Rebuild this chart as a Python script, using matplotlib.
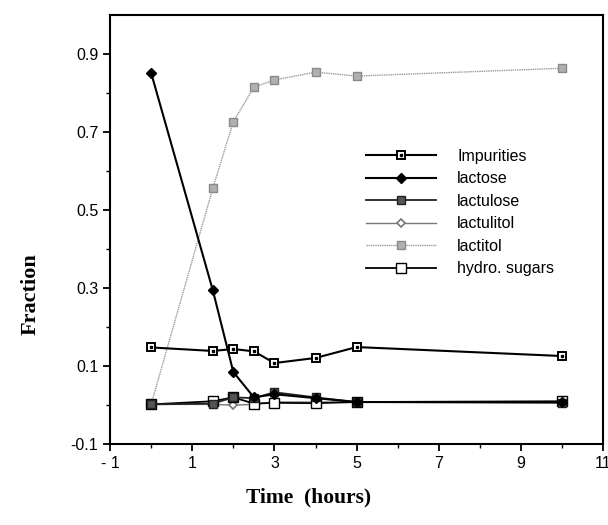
import matplotlib
matplotlib.use("Agg")
import matplotlib.pyplot as plt
from matplotlib.legend_handler import HandlerTuple

time_h = [0, 1.5, 2, 2.5, 3, 4, 5, 10]
impurities = [0.148, 0.139, 0.144, 0.138, 0.108, 0.121, 0.149, 0.126]
lactose = [0.852, 0.295, 0.085, 0.02, 0.028, 0.018, 0.008, 0.008]
lactulose = [0.002, 0.004, 0.02, 0.018, 0.033, 0.02, 0.008, 0.006]
lactulitol = [0.002, 0.002, 0.0, 0.002, 0.008, 0.008, 0.008, 0.008]
lactitol = [0.002, 0.556, 0.727, 0.815, 0.834, 0.854, 0.844, 0.864]
hydro_sugars = [0.002, 0.01, 0.02, 0.004, 0.006, 0.005, 0.008, 0.01]

xticks = [-1, 1, 3, 5, 7, 9, 11]
yticks = [-0.1, 0.1, 0.3, 0.5, 0.7, 0.9]

plt.rcParams['font.family'] = ['Liberation Sans', 'DejaVu Sans']

fig = plt.figure(figsize=(6.08, 5.25), dpi=100)
ax = fig.add_axes([0.181, 0.154, 0.811, 0.817])

ms = 5.5
l_lactitol, = ax.plot(time_h, lactitol, color='#9a9a9a', lw=1.0, ls=(0, (1, 0.6)),
                      marker='s', ms=ms, mfc='#b0b0b0', mec='#8a8a8a', mew=1.0)
l_lactulitol, = ax.plot(time_h, lactulitol, color='#777777', lw=1.0,
                        marker='D', ms=4.5, mfc='white', mec='#777777', mew=1.2)
l_hydro, = ax.plot(time_h, hydro_sugars, color='black', lw=1.3,
                   marker='s', ms=ms + 1, mfc='white', mec='black', mew=1.0)
l_lactulose, = ax.plot(time_h, lactulose, color='#222222', lw=1.3,
                       marker='s', ms=ms, mfc='#555555', mec='#222222', mew=1.0)
l_lactose, = ax.plot(time_h, lactose, color='black', lw=1.5,
                     marker='D', ms=5, mfc='black', mec='black')
l_imp, = ax.plot(time_h, impurities, color='black', lw=1.5,
                 marker='s', ms=ms + 0.5, mfc='white', mec='black', mew=1.4)
l_imp_dot, = ax.plot(time_h, impurities, ls='none', marker='s', ms=1.6,
                     mfc='black', mec='black')

ax.set_xlim(-1, 11)
ax.set_ylim(-0.1, 1.0)
ax.set_xticks(xticks)
ax.set_xticklabels([str(t) if t >= 0 else '- 1' for t in xticks])
ax.set_yticks(yticks)
ax.set_yticklabels(['-0.1', '0.1', '0.3', '0.5', '0.7', '0.9'])
ax.set_xticks([0, 2, 4, 6, 8, 10], minor=True)
ax.set_yticks([0.0, 0.2, 0.4, 0.6, 0.8], minor=True)
ax.tick_params(which='major', direction='out', length=5, width=1.3, labelsize=11.5)
ax.tick_params(which='minor', direction='out', length=3, width=1.0)
for s in ax.spines.values():
    s.set_linewidth(1.5)

fig.text(0.05, 0.44, 'Fraction', rotation=90, ha='center', va='center',
         family='Liberation Serif', weight='bold', fontsize=16)
fig.text(0.507, 0.053, 'Time  (hours)', ha='center', va='center',
         family='Liberation Serif', weight='bold', fontsize=15.5)

handles = [(l_imp, l_imp_dot), l_lactose, l_lactulose, l_lactulitol, l_lactitol, l_hydro]
labels = ['Impurities', 'lactose', 'lactulose', 'lactulitol', 'lactitol', 'hydro. sugars']
ax.legend(handles, labels, handler_map={tuple: HandlerTuple(ndivide=1, pad=0)},
          loc='upper left', bbox_to_anchor=(0.49, 0.722), frameon=False,
          handlelength=4.4, handletextpad=1.3, labelspacing=0.47, fontsize=11.5)

fig.savefig('out.png', dpi=100)
